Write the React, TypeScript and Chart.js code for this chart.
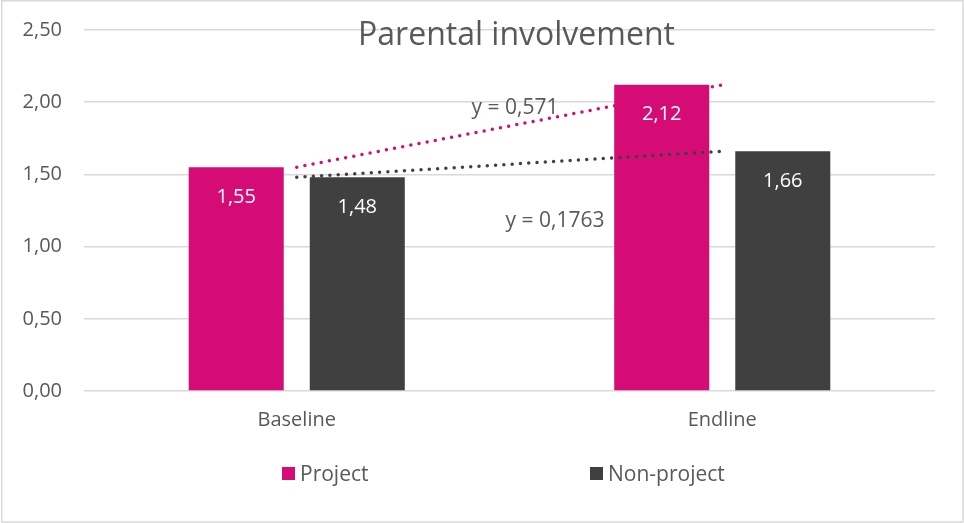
import React, { useEffect, useRef } from "react";
import { Chart, registerables } from "chart.js";

Chart.register(...registerables);

const categories = ["Baseline", "Endline"];
const projectValues = [1.55, 2.12];
const nonProjectValues = [1.48, 1.66];
const projectTrend = [1.55, 2.12];
const nonProjectTrend = [1.48, 1.66];
const trendLabels = ["y = 0,571", "y = 0,1763"];
const seriesNames = ["Project", "Non-project"];
const chartTitle = "Parental involvement";

const MAGENTA = "#D50C75";
const DARK = "#404040";
const TEXT = "#595959";
const GRID = "#D9D9D9";
const FONT = "'Open Sans', 'DejaVu Sans', sans-serif";

const fmt = (v: number) => v.toFixed(2).replace(".", ",");

const decorPlugin = {
  id: "decor",
  beforeDraw(chart: any) {
    const ctx = chart.ctx;
    ctx.save();
    ctx.fillStyle = "#ffffff";
    ctx.fillRect(0, 0, chart.width, chart.height);
    ctx.strokeStyle = GRID;
    ctx.lineWidth = 1.5;
    ctx.strokeRect(1.75, 0.75, chart.width - 2.75, chart.height - 1.75);
    ctx.restore();
  },
  afterDraw(chart: any) {
    const ctx = chart.ctx;
    const xs = chart.scales.x;
    const ys = chart.scales.y;
    ctx.save();
    // title
    ctx.fillStyle = TEXT;
    ctx.font = `32px ${FONT}`;
    ctx.textAlign = "center";
    ctx.textBaseline = "alphabetic";
    ctx.fillText(chartTitle, 516.5, 45);

    // bar data labels
    ctx.font = `20px ${FONT}`;
    ctx.fillStyle = "#ffffff";
    chart.data.datasets.forEach((ds: any, i: number) => {
      if (ds.type === "line") return;
      const meta = chart.getDatasetMeta(i);
      meta.data.forEach((el: any, j: number) => {
        ctx.fillText(fmt(ds.data[j]), el.x, el.y + 35.5);
      });
    });

    // trendline equations
    ctx.fillStyle = TEXT;
    ctx.font = `21px ${FONT}`;
    ctx.fillText(trendLabels[0], xs.getPixelForValue(0.513), ys.getPixelForValue(1.92));
    ctx.fillText(trendLabels[1], xs.getPixelForValue(0.607), ys.getPixelForValue(1.134));

    // legend
    const legendX = [282, 590];
    const colors = [MAGENTA, DARK];
    ctx.textAlign = "left";
    ctx.font = `21px ${FONT}`;
    seriesNames.forEach((name, i) => {
      ctx.fillStyle = colors[i];
      ctx.fillRect(legendX[i], 467, 13, 13);
      ctx.fillStyle = TEXT;
      ctx.fillText(name, legendX[i] + 18, 480.5);
    });
    ctx.restore();
  },
};

export default function App() {
  const ref = useRef<HTMLCanvasElement | null>(null);
  useEffect(() => {
    document.body.style.margin = "0";
    if (!ref.current) return;
    const chart = new Chart(ref.current, {
      type: "bar",
      data: {
        labels: categories,
        datasets: [
          {
            type: "line",
            label: "Project trend",
            data: projectTrend,
            borderColor: MAGENTA,
            borderWidth: 3.5,
            borderDash: [0, 8.3],
            borderCapStyle: "round",
            pointRadius: 0,
            fill: false,
            order: 1,
          } as any,
          {
            type: "line",
            label: "Non-project trend",
            data: nonProjectTrend,
            borderColor: DARK,
            borderWidth: 3.5,
            borderDash: [0, 8.3],
            borderCapStyle: "round",
            pointRadius: 0,
            fill: false,
            order: 0,
          } as any,
          {
            label: seriesNames[0],
            data: projectValues,
            backgroundColor: MAGENTA,
            categoryPercentage: 0.569,
            barPercentage: 0.785,
            order: 2,
          },
          {
            label: seriesNames[1],
            data: nonProjectValues,
            backgroundColor: DARK,
            categoryPercentage: 0.569,
            barPercentage: 0.785,
            order: 2,
          },
        ],
      },
      options: {
        responsive: false,
        maintainAspectRatio: false,
        animation: false,
        layout: { padding: { top: 30, right: 29, left: 0, bottom: 0 } },
        plugins: {
          legend: { display: false },
          title: { display: false },
          tooltip: { enabled: false },
        },
        scales: {
          x: {
            grid: { display: false, drawTicks: false },
            border: { display: false },
            ticks: {
              color: TEXT,
              font: { family: FONT, size: 20 },
              padding: 17,
            },
            afterFit: (s: any) => {
              s.height = 132;
              s.paddingLeft = 0;
              s.paddingRight = 0;
            },
          },
          y: {
            min: 0,
            max: 2.5,
            grid: { color: GRID, lineWidth: 1.5, drawTicks: false },
            border: { display: false },
            ticks: {
              stepSize: 0.5,
              color: TEXT,
              font: { family: FONT, size: 20 },
              padding: 22,
              callback: (v: any) => fmt(Number(v)),
            },
            afterFit: (s: any) => {
              s.width = 84;
              s.paddingTop = 0;
              s.paddingBottom = 0;
            },
          },
        },
      },
      plugins: [decorPlugin],
    });
    return () => chart.destroy();
  }, []);
  return (
    <div style={{ position: "fixed", left: 0, top: 0, width: 964, height: 523 }}>
      <canvas ref={ref} width={964} height={523} />
    </div>
  );
}
